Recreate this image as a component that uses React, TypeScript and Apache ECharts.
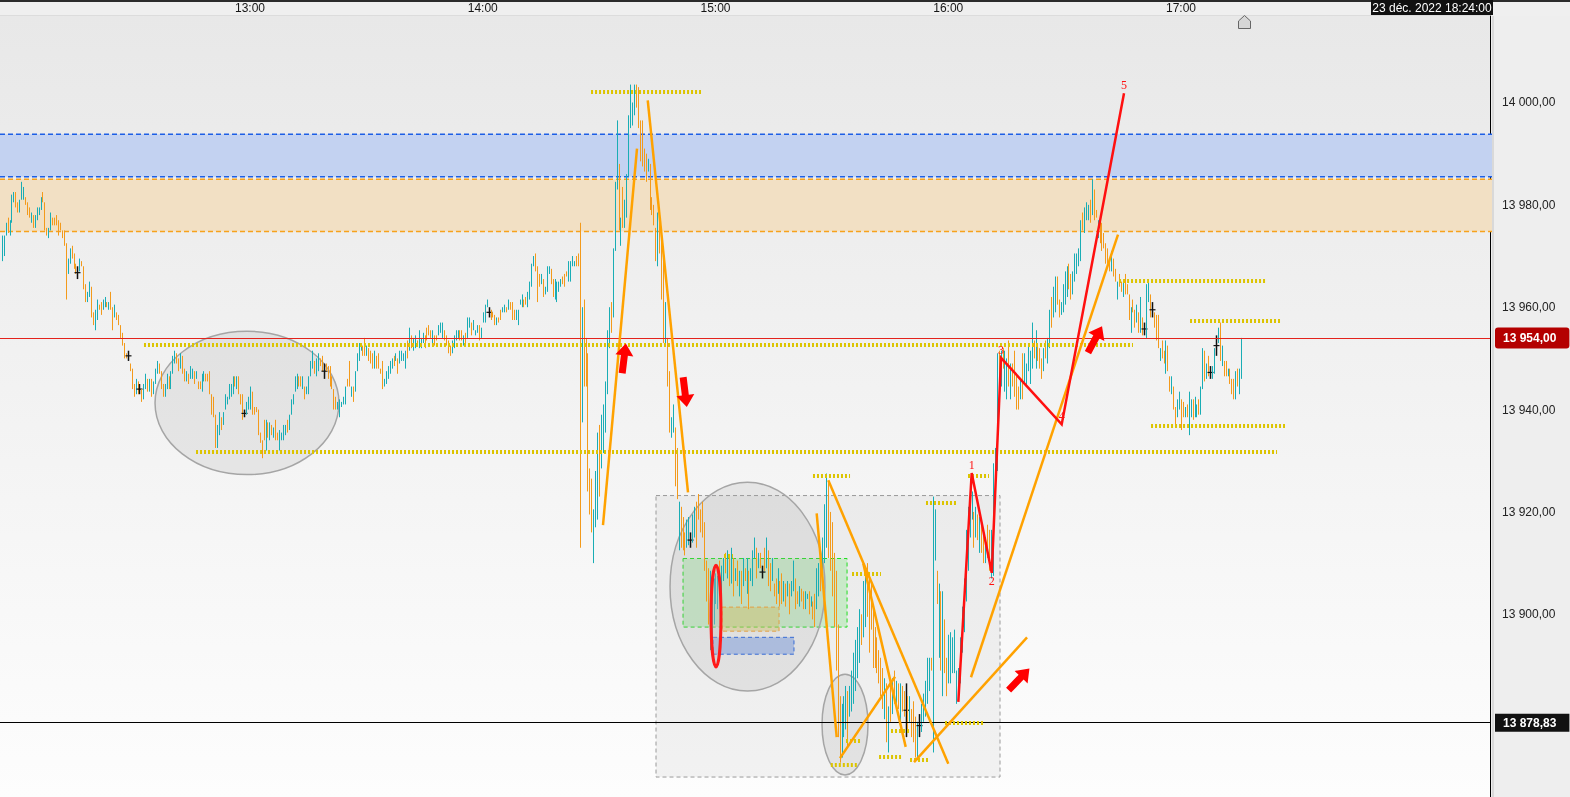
import React, { useEffect, useRef } from "react";
import * as echarts from "echarts";

// ---------------- data ----------------
// 30-second bars, each [open, close] in points above PRICE_BASE (bar spans open..close)
const PRICE_BASE = 13900;
const BAR_MINUTES = 0.5;

const barsStart1 = "11:56:00";
const bars1 = [
  [69,74],[70,74],[74,76.5],[77.5,74.5],[74,77],[76.5,82],[80.5,82.5],[82.5,79.5],[80.5,78.5],[78.5,81],
  [81,84.5],[81,83.5],[81.5,80],[80.5,78],[79.5,77.5],[76.5,78.5],[78,75.5],[75.5,78],[77,79.5],[78,79.5],
  [79,81.5],[82.5,80.5],[80.5,75],[75.5,74],[73.5,75.5],[75,78.5],[77.5,76],[77.5,76],[78,76],[77,74],
  [76.5,75],[75,73.5],[75,72],[72.5,61.5],[66.5,69.5],[68.5,71.5],[72,69.5],[70.5,67.5],[68.5,66.5],[68,65.5],
  [67,69.5],[69,68],[68,63.5],[64.5,61],[61,63],[62,65],[64,58],[59,56.5],[55.5,59.5],[57.5,61.5],
  [60.5,59.5],[61,58.5],[59.5,61.5],[60,62],[61,60],[59.5,61],[63,59.5],[60,55.5],[58,60.5],[59,57.5],
  [58.5,56.5],[56.5,54],[55,52.5],[53,50],[51,50],[51.5,49.5],[49,47.5],[48,44],[45,42.5],[43,46],
  [45.5,43],[45,43],[44,41.5],[42,45],[44,47],[46,43.5],[43.5,46],[46,42.5],[43,45.5],[45,48],
  [47,49.5],[49,47],[47.5,44],[45,42.5],[42.5,45],[44,47],[46.5,44],[44,47.5],[47,50.5],[49,51.5],
  [51,49],[50,47.5],[48,51],[50.5,47],[48,45.5],[45.5,47.5],[47,45],[46,48.5],[46,48],[47.5,45],
  [46,47.5],[45.5,44],[45.5,44],[43.5,47],[45.5,47.5],[47,45.5],[47,45.5],[47.5,43],[43,39],[42.5,38.5],
  [39,32.5],[32.5,37],[35,39.5],[38.5,36],[37,39.5],[40,43],[41,42.5],[42,45],[42.5,45],[43,46.5],
  [46.5,44.5],[44,46.5],[46.5,43],[43,41],[43,38],[40,38.5],[39,41.5],[40,42.5],
];

const barsStart2 = "13:00:00";
const bars2 = [
  [40,44.5],[43.5,39],[40.5,39],[40.5,39.5],[40,35],[35.5,33.5],[34,30.5],[38,34],[32,38],[37.5,34.5],
  [34,37.5],[37,35],[34.5,36.5],[38,34],[35.5,34],[32,36],[34,35.5],[34,37],[35,37],[38,35.5],
  [36,39],[39,42],[41,43],[43.5,46.5],[44,47],[46.5,44.5],[46.5,44.5],[44,46.5],[44.5,42],[43,44.5],
  [43,46.5],[46.5,49.5],[48,51.5],[49.5,47],[46.5,50],[47.5,51],[50,48.5],[50.5,47.5],[49,46],[49,47.5],
  [48.5,46],[48.5,44.5],[46.5,44],[44,40],[42.5,40],[40,41.5],[38.5,42],[40.5,41.5],[41,42.5],[41,44.5],
  [46,44.5],[49.5,44.5],[42.5,44.5],[44.5,41.5],[43.5,47.5],[47.5,51],[49.5,53],[51.5,53],[52.5,50.5],[54,50.5],
  [50.5,52.5],[52,49.5],[51.5,49],[51,48],[48,51.5],[50.5,48],[51,48],[48,47],[49.5,44],[44.5,46],
  [45,47.5],[46,48.5],[47,49.5],[48,50],[50.5,48.5],[49.5,51],[50,47],[49,51.5],[49.5,51.5],[49.5,51],
  [48,51.5],[53.5,50],[51.5,56],[54.5,52],[51.5,54],[52,54.5],[53.5,52.5],[52,55.5],[52,54],[53,55],
  [54.5,52],[56,53.5],[56.5,54.5],[55.5,54],[52.5,55.5],[54.5,52.5],[54.5,53.5],[54.5,56.5],[55,57],[54,57],
  [55.5,53.5],[54.5,52.5],[53.5,51],[52.5,50.5],[51,53.5],[52,54.5],[53.5,55.5],[54,55.5],[55.5,53.5],[55.5,53.5],
  [52.5,54.5],[55,52.5],[54,58],[56,58],[57,54.5],[55.5,57.5],[54.5,55.5],[55,56.5],[56.5,53.5],[54,56],
];

const barsStart3 = "14:00:00";
const bars3 = [
  [57,59],[57,60.5],[60,61.5],[60,58],[59.5,57.5],[59,58],[58.5,56.5],[56.5,58],[58,57],[59.5,57.5],
  [59,60],[59,60.5],[60,59],[59.5,61.5],[61,59.5],[61,57.5],[59.5,57.5],[57.5,59.5],[56.5,59.5],[60.5,61.5],
  [60,62.5],[61.5,60],[62,60.5],[60,63],[61.5,65],[64,68.5],[68,70],[70.5,67],[68,61],[66.5,64],
  [64.5,66.5],[65.5,62],[62.5,64],[63,68],[66.5,68],[67.5,64.5],[65.5,62],[61.5,65.5],[61,65],[63,65],
  [64,65.5],[66,64.5],[66.5,64],[67,66],[65,69],[65,69],[68,70],[68,69],[70,68],[70.5,68],
  [76.5,13],[37.5,60],[61.5,44.5],[54,44.5],[51,24],[28.5,19.5],[26.5,16],[10,20.5],[17,28],[18.5,35.5],
  [37,23],[28.5,39],[31.5,41],[35.5,45.5],[43,55.5],[52,60],[61,55],[58,71.5],[71,84.5],[83,96.5],
  [88,75],[72,77.5],[83.5,75.5],[75.5,81],[77.5,86],[85.5,97.5],[95,103.5],[95.5,100],[97.5,103.5],[103.5,99],
  [103,95],[96.5,88.5],[96.5,87.5],[91,86.5],[90,84.5],[86.5,89],[88,79],[81.5,78],[80,76],[75.5,69],
  [68,78.5],[77.5,70.5],[75.5,61.5],[69,53],[53,61],[54,44.5],[47.5,35.5],[34.5,38.5],[35.5,41],[36.5,25],
  [32.5,22.5],[12.5,22],[21,13],[19,12.5],[16,11.5],[13,18.5],[13.5,19],[16,13],[14,19.5],[15,21],
  [22,13],[23.5,18.5],[20.5,16],[22,15],[18,8.5],[10.5,2.5],[9,-2],[-7,8.5],[-5,6.5],[-2,7],
];

const barsStart4 = "15:00:00";
const bars4 = [
  [2,8],[1,7.5],[10.5,4.5],[3.5,9.5],[6.5,11],[12,8],[7,12.5],[11.5,5.5],[6,13],[11,3.5],
  [6.5,9],[10.5,5.5],[3.5,8.5],[8.5,2],[5.5,11],[9,6.5],[4,11],[8.5,1],[6.5,9],[5.5,12.5],
  [11,15],[13,7],[9,12],[12,9],[9.5,7],[13,8.5],[9,15],[12.5,5.5],[10,4.5],[6.5,11],
  [6,3.5],[7,2],[4,9],[6.5,1.5],[8,2],[2.5,6.5],[6,1.5],[3.5,6.5],[6,0],[3.5,6.5],
  [4.5,10.5],[7,1],[4.5,2],[1.5,5.5],[5,2.5],[4.5,1],[1,4.5],[3,4],[4.5,0],[1.5,3.5],
  [2.5,-1],[4,-2.5],[1,9],[3.5,10],[12.5,4.5],[6.5,15],[10,21.5],[13,27.5],[26,11],[20,8.5],
  [18,3.5],[12,-2.5],[8.5,-11],[-2,-24],[-16,-29],[-28,-17.5],[-24,-16],[-22.5,-14],[-15,-26],[-20,-14],
  [-19,-11],[-17.5,-7.5],[-15,-5],[-12.5,-2.5],[-9.5,1],[0,-6],[-4.5,6.5],[-2.5,8.5],[10,-0.5],[7,-7.5],
  [6,-3],[1.5,-10.5],[-2.5,-10.5],[-4.5,-11.5],[-7,-13.5],[-8.5,-16],[-10.5,-18.5],[-20.5,-12.5],[-13.5,-25],[-27,-18],
  [-13.5,-21],[-19.5,-12.5],[-11,-17.5],[-17.5,-13],[-13.5,-18.5],[-21,-13.5],[-14,-19],[-15,-20],[-13.5,-24],[-16,-22.5],
  [-21,-16],[-18.5,-24],[-17,-25],[-20,-28],[-28.5,-21],[-19.5,-24],[-23,-17.5],[-21,-15.5],[-20,-13],[-17.5,-8.5],
  [-15,-8.5],[-8.5,-11],[-27,23],[10.5,20.5],[8.5,2],[-8.5,6],[4.5,-11],[-16,4.5],[-1,-11.5],[-8.5,-16],
];

const barsStart5 = "16:00:00";
const bars5 = [
  [-13.5,-4],[-13.5,-3.5],[-11.5,-4.5],[-11.5,-3],[-17.5,-11],[-17,-10.5],[-13.5,-4.5],[-7.5,1.5],[-3.5,7],[2.5,16.5],
  [8.5,21],[15,26.5],[18.5,24],[20,13],[15,21],[19.5,14.5],[12,19],[18.5,12],[16.5,10],[10,15],
  [17.5,11],[16.5,8.5],[7,16.5],[7.5,29.5],[26.5,32.5],[28,51],[51.5,43.5],[44.5,51.5],[52,48],[43.5,51.5],
  [42,50],[53.5,44.5],[42,49],[49,44.5],[51.5,42.5],[47,40],[44.5,40],[42,46],[51,42],[45,51],
  [44.5,49],[47.5,53],[45,51.5],[48,57],[53.5,50],[48,55.5],[53,49.5],[52,48],[50,46],[47.5,52],
  [53.5,50],[49,54],[52,59.5],[62,56],[58,64],[59,66],[66,60.5],[61.5,58],[58.5,61],[59,64.5],
  [60.5,67],[62,68],[68.5,63.5],[66.5,61.5],[62.5,67],[65,70.5],[66.5,70.5],[68,71.5],[69,77],[78.5,75],
  [74.5,79.5],[77,80.5],[77,80],[81,76.5],[78,85],[83,77],[79,77.5],[73.5,77],[77,72.5],[76.5,71],
  [74.5,71.5],[72.5,68.5],[71.5,68.5],[69.5,67],[67,71],[69.5,66],[67.5,65],[61.5,65],[66.5,64],[65,63],
  [62,65],[66.5,62.5],[64.5,62.5],[62.5,57.5],[55,60],[61.5,59],[59.5,56],[57,60.5],[59,55],[55,62],
  [58,54.5],[57,54.5],[54,64.5],[61,65.5],[62.5,58],[61,58],[59,56],[58.5,53.5],[58.5,52],[49.5,52],
  [53.5,50],[51.5,49],[47,53.5],[52.5,47.5],[46.5,43.5],[43,46.5],[44.5,40],[40.5,36.5],[38.5,42],[40,43.5],
];

const barsStart6 = "17:00:00";
const bars6 = [
  [42,36],[41.5,38.5],[38.5,40.5],[41,38.5],[35,43.5],[38.5,42],[42,38],[38.5,42.5],[38.5,41],[42,39],
  [39,44.5],[44,52],[51.5,45.5],[46,49],[50.5,46.5],[48.5,46],[46,48.5],[47,52],[54.5,50.5],[53,56],
  [57,49.5],[48.5,52.5],[49.5,46.5],[49.5,46.5],[46.5,48],[48,45],[46,43],[46,42],[42,47.5],[48,44.5],
  [43,48],[46,54],
];

// bars drawn in black (flagged bars)
const markedBarTimes = [
  "12:15:30", "12:28:30", "12:31:30", "12:58:30", "13:19:00", "14:01:30", "14:53:30",
  "15:12:00", "15:49:00", "15:52:30", "16:50:30", "16:52:30", "17:07:30", "17:09:00",
];

const timeTicks = ["13:00", "14:00", "15:00", "16:00", "17:00"];
const priceTicks = [13900, 13920, 13940, 13960, 13980, 14000];
const viewTimes = ["11:55:33", "18:19:40"];
const viewPrices = [13864.3, 14016.9];
const lastPrice = 13954;
const crosshairPrice = 13878.83;
const crosshairDateLabel = "23 déc. 2022 18:24:00";

// horizontal zones [low, high]
const blueZone = [13985.5, 13993.8];
const orangeZone = [13974.8, 13985.0];

// rectangles [t1, p1, t2, p2, kind]
const boxes = [
  ["14:44:40", 13923.2, "16:13:21", 13868.2, "gray"],
  ["14:51:38", 13910.9, "15:33:55", 13897.5, "green"],
  ["15:01:41", 13901.4, "15:16:23", 13896.7, "tan"],
  ["14:59:22", 13895.5, "15:20:14", 13892.2, "blue"],
];

// ellipses [t1, p1, t2, p2, kind] (bounding box)
const ellipses = [
  ["12:35:31", 13955.3, "13:22:56", 13927.3, "gray"],
  ["14:48:17", 13925.8, "15:28:14", 13885.0, "gray"],
  ["15:27:28", 13888.3, "15:39:19", 13868.6, "gray"],
  ["14:58:51", 13909.6, "15:01:25", 13889.7, "red"],
];

// dotted horizontal levels [t1, t2, price]
const levels = [
  ["14:27:55", "14:56:16", 14002.0],
  ["12:32:40", "16:47:38", 13952.7],
  ["12:46:05", "17:24:46", 13931.8],
  ["15:25:08", "15:34:41", 13927.1],
  ["15:35:12", "15:42:40", 13907.8],
  ["16:44:02", "17:21:55", 13965.2],
  ["17:02:20", "17:25:32", 13957.4],
  ["16:52:17", "17:26:49", 13936.7],
  ["16:05:06", "16:10:31", 13927.0],
  ["15:54:16", "16:02:01", 13921.7],
  ["15:59:10", "16:08:58", 13878.7],
  ["15:33:39", "15:37:16", 13875.3],
  ["15:29:44", "15:36:29", 13870.5],
  ["15:42:10", "15:47:50", 13872.1],
  ["15:45:15", "15:49:54", 13877.2],
  ["15:50:09", "15:54:47", 13871.5],
  ["15:02:12", "15:04:31", 13911.4],
];

// orange trend lines [t1, p1, t2, p2]
const trendLines = [
  ["14:31:00", 13917.4, "14:39:46", 13991.0],
  ["14:42:32", 14000.4, "14:52:55", 13923.8],
  ["15:26:05", 13919.7, "15:31:15", 13876.0],
  ["15:29:05", 13926.2, "16:00:01", 13870.8],
  ["15:38:07", 13909.9, "15:49:02", 13874.1],
  ["15:32:06", 13871.9, "15:46:17", 13887.8],
  ["15:51:11", 13871.1, "16:20:19", 13895.5],
  ["16:05:52", 13887.7, "16:43:46", 13974.2],
];

// Elliott wave count [time, price, label, label side]
const waveCount = [
  ["16:02:36", 13882.9, "", ""],
  ["16:06:03", 13927.6, "1", "above"],
  ["16:11:13", 13908.1, "2", "below"],
  ["16:13:37", 13950.1, "3", "above"],
  ["16:29:15", 13937.1, "4", "above"],
  ["16:45:19", 14001.8, "5", "above"],
];

// arrows [time, price, direction in degrees (0 = up, positive = counter-clockwise)]
const arrows = [
  ["14:36:25", 13950.0, -7],
  ["14:52:08", 13943.4, 187],
  ["16:18:15", 13887.3, -44],
  ["16:37:50", 13953.7, -28],
];

// ---------------- styles ----------------
const UP = "#19adb5";
const DOWN = "#f39a1b";
const MARKED = "#111111";
const LEVEL_COLOR = "#dcc400";
const TREND_COLOR = "#ffa200";
const WAVE_COLOR = "#ff1010";
const FONT = "'Liberation Sans', Arial, sans-serif";
const ARROW_PATH = "path://M9 0 L18 12 L12.5 12 L12.5 30 L5.5 30 L5.5 12 L0 12 Z";

const BOX_STYLE: Record<string, any> = {
  gray: { fill: "rgba(150,150,150,0.10)", stroke: "#9a9a9a" },
  green: { fill: "rgba(120,225,120,0.30)", stroke: "#22dd22" },
  tan: { fill: "rgba(220,195,80,0.42)", stroke: "#f0a030" },
  blue: { fill: "rgba(80,130,230,0.40)", stroke: "#2060e0" },
};
const ELLIPSE_STYLE: Record<string, any> = {
  gray: { fill: "rgba(160,160,160,0.18)", stroke: "#a5a5a5", lineWidth: 1.5 },
  red: { fill: "rgba(190,190,190,0.35)", stroke: "#ff1a1a", lineWidth: 3 },
};

const tm = (s: string) => {
  const [h, m, sec] = s.split(":");
  return Number(h) * 60 + Number(m) + (sec ? Number(sec) / 60 : 0);
};
const fmtPrice = (v: number) => {
  const [i, d] = v.toFixed(2).split(".");
  return i.replace(/\B(?=(\d{3})+(?!\d))/g, " ") + "," + d;
};
const fmtTime = (v: number) => {
  const h = Math.floor(v / 60);
  const m = Math.round(v - h * 60);
  return `${h}:${String(m).padStart(2, "0")}`;
};

function buildBars() {
  const marked = new Set(markedBarTimes.map(tm));
  const segs: [string, number[][]][] = [
    [barsStart1, bars1], [barsStart2, bars2], [barsStart3, bars3],
    [barsStart4, bars4], [barsStart5, bars5], [barsStart6, bars6],
  ];
  const out: number[][] = [];
  segs.forEach(([start, bars]) => {
    const t0 = tm(start);
    bars.forEach(([o, c], i) => {
      const t = t0 + i * BAR_MINUTES;
      out.push([t, PRICE_BASE + o, PRICE_BASE + c, marked.has(t) ? 1 : 0]);
    });
  });
  return out;
}

export default function App() {
  const ref = useRef<HTMLDivElement>(null);

  useEffect(() => {
    if (!ref.current) return;
    const chart = echarts.init(ref.current, undefined, { renderer: "svg" });
    const barData = buildBars();
    const xMin = tm(viewTimes[0]);
    const xMax = tm(viewTimes[1]);

    const option: any = {
      animation: false,
      textStyle: { fontFamily: FONT },
      grid: { left: 0, right: 80, top: 16, bottom: 0, containLabel: false },
      xAxis: {
        type: "value",
        position: "top",
        min: xMin,
        max: xMax,
        axisLine: { show: false },
        axisTick: { show: false },
        splitLine: { show: false },
        axisLabel: {
          customValues: timeTicks.map(tm),
          formatter: (v: number) => fmtTime(v),
          margin: 2,
          fontSize: 12,
          color: "#151515",
          fontFamily: FONT,
        },
      },
      yAxis: {
        type: "value",
        position: "right",
        min: viewPrices[0],
        max: viewPrices[1],
        axisLine: { show: true, lineStyle: { color: "#000", width: 1 } },
        axisTick: { show: false },
        splitLine: { show: false },
        axisLabel: {
          customValues: priceTicks,
          formatter: (v: number) => fmtPrice(v),
          margin: 12,
          fontSize: 12,
          color: "#222",
          fontFamily: FONT,
        },
      },
      graphic: [
        { type: "rect", z: -20, silent: true, shape: { x: 0, y: 16, width: 1490, height: 781 },
          style: { fill: new echarts.graphic.LinearGradient(0, 0, 0, 1, [
            { offset: 0, color: "#e8e8e8" }, { offset: 1, color: "#fdfdfd" }]) } },
        { type: "rect", z: -20, silent: true, shape: { x: 0, y: 0, width: 1570, height: 16 }, style: { fill: "#efefef" } },
        { type: "rect", z: -19, silent: true, shape: { x: 0, y: 15, width: 1490, height: 1 }, style: { fill: "#dcdcdc" } },
        { type: "rect", z: -20, silent: true, shape: { x: 1491, y: 16, width: 79, height: 781 }, style: { fill: "#eeeeee" } },
        { type: "rect", z: -19, silent: true, shape: { x: 1492, y: 16, width: 2, height: 781 }, style: { fill: "#d9d9d9" } },
        { type: "rect", z: 1, silent: true, shape: { x: 0, y: 0, width: 1570, height: 2 }, style: { fill: "#2b2b2b" } },
        { type: "rect", z: 1, silent: true, shape: { x: 1371, y: 0, width: 122, height: 15 }, style: { fill: "#111" } },
        { type: "text", z: 2, silent: true, x: 1432, y: 8,
          style: { text: crosshairDateLabel, fill: "#fff", font: `12px ${FONT}`, textAlign: "center", textVerticalAlign: "middle", align: "center", verticalAlign: "middle" } },
        { type: "polygon", z: 2, silent: true,
          shape: { points: [[1238.5, 28.5], [1238.5, 21], [1244.5, 15.5], [1250.5, 21], [1250.5, 28.5]] },
          style: { fill: "#d6d6d6", stroke: "#666", lineWidth: 1 } },
      ],
      series: [
        // zones
        {
          type: "custom", z: 1, silent: true,
          data: [[xMin, blueZone[0]], [xMin, orangeZone[0]]],
          encode: { x: 0, y: 1 },
          renderItem: (params: any, api: any) => {
            const zone = params.dataIndex === 0 ? blueZone : orangeZone;
            const fill = params.dataIndex === 0 ? "#c3d2f1" : "#f2e0c4";
            const stroke = params.dataIndex === 0 ? "#1d5fe6" : "#f7a21c";
            const cs = params.coordSys;
            const yTop = api.coord([xMin, zone[1]])[1];
            const yBot = api.coord([xMin, zone[0]])[1];
            const x0 = cs.x, x1 = cs.x + cs.width + 2;
            return {
              type: "group",
              children: [
                { type: "rect", shape: { x: x0, y: yTop, width: x1 - x0, height: yBot - yTop }, style: { fill } },
                { type: "line", shape: { x1: x0, y1: yTop, x2: x1, y2: yTop }, style: { stroke, lineWidth: 1.5, lineDash: [5, 3] } },
                { type: "line", shape: { x1: x0, y1: yBot, x2: x1, y2: yBot }, style: { stroke, lineWidth: 1.5, lineDash: [5, 3] } },
              ],
            };
          },
        },
        // rectangles
        {
          type: "custom", z: 2, silent: true,
          data: boxes.map((b: any) => [tm(b[0]), b[1]]),
          encode: { x: 0, y: 1 },
          renderItem: (params: any, api: any) => {
            const b: any = boxes[params.dataIndex];
            const p1 = api.coord([tm(b[0]), b[1]]);
            const p2 = api.coord([tm(b[2]), b[3]]);
            const st = BOX_STYLE[b[4]];
            return {
              type: "rect",
              shape: { x: Math.min(p1[0], p2[0]), y: Math.min(p1[1], p2[1]), width: Math.abs(p2[0] - p1[0]), height: Math.abs(p2[1] - p1[1]) },
              style: { fill: st.fill, stroke: st.stroke, lineWidth: 1, lineDash: [4, 3] },
            };
          },
        },
        // ellipses (gray ones below bars)
        {
          type: "custom", z: 2, silent: true,
          data: ellipses.map((e: any) => [tm(e[0]), e[1]]),
          encode: { x: 0, y: 1 },
          renderItem: (params: any, api: any) => {
            const e: any = ellipses[params.dataIndex];
            if (e[4] !== "gray") return null;
            const p1 = api.coord([tm(e[0]), e[1]]);
            const p2 = api.coord([tm(e[2]), e[3]]);
            const st = ELLIPSE_STYLE[e[4]];
            return {
              type: "ellipse",
              shape: { cx: (p1[0] + p2[0]) / 2, cy: (p1[1] + p2[1]) / 2, rx: Math.abs(p2[0] - p1[0]) / 2, ry: Math.abs(p2[1] - p1[1]) / 2 },
              style: { fill: st.fill, stroke: st.stroke, lineWidth: st.lineWidth },
            };
          },
        },
        // price bars
        {
          type: "custom", z: 3, silent: true,
          dimensions: ["t", "o", "c", "m"],
          encode: { x: 0, y: [1, 2] },
          data: barData,
          renderItem: (params: any, api: any) => {
            const t = api.value(0), o = api.value(1), c = api.value(2), m = api.value(3);
            const hi = api.coord([t, Math.max(o, c)]);
            const lo = api.coord([t, Math.min(o, c)]);
            const x = Math.round(hi[0]) + 0.5;
            const stroke = m ? MARKED : c >= o ? UP : DOWN;
            const kids: any[] = [
              { type: "line", shape: { x1: x, y1: hi[1], x2: x, y2: lo[1] }, style: { stroke, lineWidth: m ? 1.5 : 1 } },
            ];
            if (m) {
              const mid = api.coord([t, (o + c) / 2])[1];
              kids.push({ type: "line", shape: { x1: x - 3, y1: mid, x2: x + 3, y2: mid }, style: { stroke: MARKED, lineWidth: 1.2 } });
            }
            return { type: "group", children: kids };
          },
          markLine: {
            silent: true,
            symbol: ["none", "none"],
            animation: false,
            data: [
              {
                yAxis: lastPrice,
                lineStyle: { color: "#e3221b", width: 1, type: "solid" },
                label: { show: true, position: "end", distance: 5, formatter: fmtPrice(lastPrice), backgroundColor: "#b40000", color: "#fff", fontWeight: "bold", fontSize: 12, fontFamily: FONT, padding: [5, 13, 4, 8], borderRadius: 3 },
              },
              {
                yAxis: crosshairPrice,
                lineStyle: { color: "#000", width: 1, type: "solid" },
                label: { show: true, position: "end", distance: 5, formatter: fmtPrice(crosshairPrice), backgroundColor: "#111", color: "#fff", fontWeight: "bold", fontSize: 12, fontFamily: FONT, padding: [3, 13, 3, 8], borderRadius: 0 },
              },
            ],
          },
        },
        // red ellipse above bars
        {
          type: "custom", z: 4, silent: true,
          data: ellipses.map((e: any) => [tm(e[0]), e[1]]),
          encode: { x: 0, y: 1 },
          renderItem: (params: any, api: any) => {
            const e: any = ellipses[params.dataIndex];
            if (e[4] !== "red") return null;
            const p1 = api.coord([tm(e[0]), e[1]]);
            const p2 = api.coord([tm(e[2]), e[3]]);
            const st = ELLIPSE_STYLE[e[4]];
            return {
              type: "ellipse",
              shape: { cx: (p1[0] + p2[0]) / 2, cy: (p1[1] + p2[1]) / 2, rx: Math.abs(p2[0] - p1[0]) / 2, ry: Math.abs(p2[1] - p1[1]) / 2 },
              style: { fill: st.fill, stroke: st.stroke, lineWidth: st.lineWidth },
            };
          },
        },
        // dotted levels
        {
          type: "custom", z: 5, silent: true,
          data: levels.map((l: any) => [tm(l[0]), l[2]]),
          encode: { x: 0, y: 1 },
          renderItem: (params: any, api: any) => {
            const l: any = levels[params.dataIndex];
            const a = api.coord([tm(l[0]), l[2]]);
            const b = api.coord([tm(l[1]), l[2]]);
            const y = Math.round(a[1]);
            return { type: "line", shape: { x1: a[0], y1: y, x2: b[0], y2: y }, style: { stroke: LEVEL_COLOR, lineWidth: 4, lineDash: [2, 2] } };
          },
        },
        // orange trend lines
        {
          type: "custom", z: 6, silent: true,
          data: trendLines.map((l: any) => [tm(l[0]), l[1]]),
          encode: { x: 0, y: 1 },
          renderItem: (params: any, api: any) => {
            const l: any = trendLines[params.dataIndex];
            const a = api.coord([tm(l[0]), l[1]]);
            const b = api.coord([tm(l[2]), l[3]]);
            return { type: "line", shape: { x1: a[0], y1: a[1], x2: b[0], y2: b[1] }, style: { stroke: TREND_COLOR, lineWidth: 2.5 } };
          },
        },
        // wave count
        {
          type: "custom", z: 7, silent: true,
          data: [[tm(waveCount[0][0] as string), waveCount[0][1]]],
          encode: { x: 0, y: 1 },
          renderItem: (params: any, api: any) => {
            const pts = waveCount.map((w: any) => api.coord([tm(w[0]), w[1]]));
            const kids: any[] = [
              { type: "polyline", shape: { points: pts }, style: { stroke: WAVE_COLOR, lineWidth: 2.5, fill: "none" } },
            ];
            waveCount.forEach((w: any, i: number) => {
              if (!w[2]) return;
              const dy = w[3] === "below" ? 8 : -8;
              kids.push({
                type: "text", x: pts[i][0], y: pts[i][1] + dy,
                style: { text: w[2], fill: WAVE_COLOR, font: "12px 'Liberation Serif', serif", textAlign: "center", textVerticalAlign: "middle", align: "center", verticalAlign: "middle" },
              });
            });
            return { type: "group", children: kids };
          },
        },
        // arrows
        {
          type: "scatter", z: 8, silent: true,
          symbol: ARROW_PATH,
          symbolSize: [18, 30],
          itemStyle: { color: "#ff0000", opacity: 1 },
          data: arrows.map((a: any) => ({ value: [tm(a[0]), a[1]], symbolRotate: a[2] })),
        },
      ],
    };

    chart.setOption(option);
    return () => chart.dispose();
  }, []);

  return <div ref={ref} style={{ position: "fixed", left: 0, top: 0, width: 1570, height: 797 }} />;
}
